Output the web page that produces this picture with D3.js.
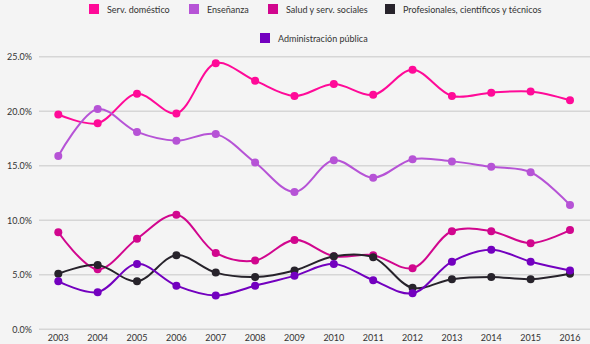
<!DOCTYPE html>
<html lang="es">
<head>
<meta charset="utf-8">
<script src="https://d3js.org/d3.v7.min.js"></script>
<style>
  body { margin: 0; background: #f4f4f4; }
  text { font-family: Lato, "Open Sans", sans-serif; fill: #333; }
</style>
</head>
<body>
<div id="main"></div>
<script>
var width = 590, height = 344;

var years = [2003, 2004, 2005, 2006, 2007, 2008, 2009, 2010, 2011, 2012, 2013, 2014, 2015, 2016];
var domestico     = [19.7, 18.9, 21.6, 19.8, 24.4, 22.8, 21.4, 22.5, 21.5, 23.8, 21.4, 21.7, 21.8, 21.0];
var ensenanza     = [15.9, 20.2, 18.1, 17.3, 17.9, 15.3, 12.6, 15.5, 13.9, 15.6, 15.4, 14.9, 14.4, 11.4];
var salud         = [8.9, 5.5, 8.3, 10.5, 7.0, 6.3, 8.2, 6.7, 6.8, 5.6, 9.0, 9.0, 7.9, 9.1];
var profesionales = [5.1, 5.9, 4.4, 6.8, 5.2, 4.8, 5.4, 6.7, 6.6, 3.8, 4.6, 4.8, 4.6, 5.1];
var admin         = [4.4, 3.4, 6.0, 4.0, 3.1, 4.0, 4.9, 6.0, 4.5, 3.3, 6.2, 7.3, 6.2, 5.4];
var yTicks = [0, 5, 10, 15, 20, 25];

var series = [
  {name: "Serv. doméstico", values: domestico, color: "#ff0a98"},
  {name: "Enseñanza", values: ensenanza, color: "#b653d6"},
  {name: "Salud y serv. sociales", values: salud, color: "#d1068e"},
  {name: "Profesionales, científicos y técnicos", values: profesionales, color: "#27232b"},
  {name: "Administración pública", values: admin, color: "#7300bf"}
];

var svg = d3.select("#main").append("svg")
  .attr("width", width).attr("height", height);

var x = d3.scalePoint().domain(years).range([58.3, 570]);
var y = d3.scaleLinear().domain([0, 25]).range([329.3, 56.7]);

// grid lines + y labels
var grid = svg.append("g");
grid.selectAll("line").data(yTicks).enter().append("line")
  .attr("x1", 39).attr("x2", 590)
  .attr("y1", d => y(d)).attr("y2", d => y(d))
  .attr("stroke", "#d6d6d6").attr("stroke-width", 1.5);
grid.selectAll("text").data(yTicks).enter().append("text")
  .attr("x", 32).attr("y", d => y(d) + 3.5)
  .attr("text-anchor", "end").attr("font-size", 9)
  .text(d => d3.format(".1f")(d) + "%");

svg.append("g").selectAll("text").data(years).enter().append("text")
  .attr("x", d => x(d)).attr("y", 341)
  .attr("text-anchor", "middle").attr("font-size", 9)
  .text(d => d);

var line = d3.line()
  .x((d, i) => x(years[i]))
  .y(d => y(d))
  .curve(d3.curveCatmullRom.alpha(0.5));

var g = svg.append("g");
series.forEach(function(s) {
  g.append("path").attr("d", line(s.values))
    .attr("fill", "none").attr("stroke", s.color).attr("stroke-width", 2);
  g.selectAll(null).data(s.values).enter().append("circle")
    .attr("cx", (d, i) => x(years[i])).attr("cy", d => y(d))
    .attr("r", 4).attr("fill", s.color);
});

// legend
var legendPos = [[89, 4], [189, 4], [268, 4], [385, 4], [260, 33]];
var legend = svg.append("g");
series.forEach(function(s, i) {
  var p = legendPos[i];
  legend.append("rect").attr("x", p[0]).attr("y", p[1])
    .attr("width", 10).attr("height", 10).attr("fill", s.color);
  legend.append("text").attr("x", p[0] + 18).attr("y", p[1] + 8.5)
    .attr("font-size", 9).text(s.name);
});
</script>
</body>
</html>
